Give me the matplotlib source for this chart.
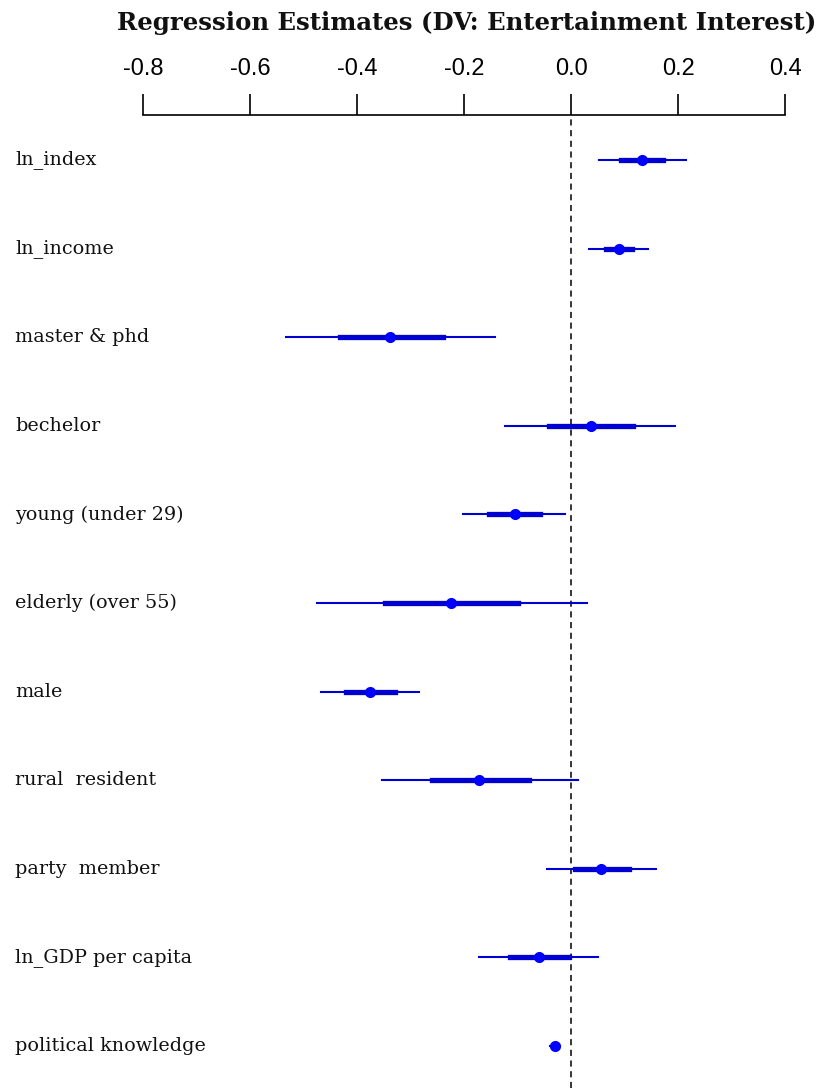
import matplotlib
matplotlib.use('Agg')
import matplotlib.pyplot as plt
import matplotlib.transforms as mtransforms
import numpy as np

# Data (coef, inner interval, outer interval)

labels = ['ln_index', 'ln_income', 'master & phd', 'bechelor', 'young (under 29)',
          'elderly (over 55)', 'male', 'rural  resident', 'party  member',
          'ln_GDP per capita', 'political knowledge']
coef = [0.133, 0.090, -0.338, 0.037, -0.105, -0.224, -0.376, -0.172, 0.057, -0.060, -0.030]
lo_inner = [0.093, 0.065, -0.432, -0.041, -0.153, -0.348, -0.421, -0.260, 0.008, -0.114, -0.034]
hi_inner = [0.172, 0.114, -0.239, 0.116, -0.058, -0.099, -0.329, -0.079, 0.109, -0.004, -0.026]
lo_outer = [0.052, 0.034, -0.533, -0.123, -0.202, -0.475, -0.467, -0.354, -0.045, -0.172, -0.040]
hi_outer = [0.215, 0.144, -0.142, 0.195, -0.011, 0.029, -0.284, 0.013, 0.159, 0.051, -0.020]

xticks = [-0.8, -0.6, -0.4, -0.2, 0.0, 0.2, 0.4]

W, H = 821, 1088
fig = plt.figure(figsize=(W / 100, H / 100), dpi=100)

# axes placed in pixel terms of the reference
left, right, top, bottom = 143, 785, 115, 1088
ax = fig.add_axes([left / W, 1 - bottom / H, (right - left) / W, (bottom - top) / H])

n = len(labels)
ypos = np.arange(n, 0, -1)

ax.set_xlim(-0.8, 0.4)
ax.set_ylim(0.526, n + 0.508)

ax.axvline(0, color='black', linestyle=(0, (4, 3)), linewidth=1.1, zorder=1)

for i in range(n):
    y = ypos[i]
    ax.plot([lo_outer[i], hi_outer[i]], [y, y], color='#0000d0', linewidth=1.5, zorder=2)
    ax.plot([lo_inner[i], hi_inner[i]], [y, y], color='#0000d0', linewidth=3.8, zorder=3)
    ax.plot(coef[i], y, 'o', color='#0000ff', markersize=7, zorder=4)

# axis on top only
for s in ['left', 'right', 'bottom']:
    ax.spines[s].set_visible(False)
ax.spines['top'].set_linewidth(1.2)
ax.xaxis.set_ticks_position('top')
ax.set_xticks(xticks)
ax.set_xticklabels(['%.1f' % t for t in xticks],
                   fontfamily=['Liberation Sans Narrow', 'Liberation Sans', 'DejaVu Sans'],
                   fontsize=17)
ax.tick_params(axis='x', direction='out', length=15, width=1.2, pad=10)
ax.set_yticks([])

# row labels at the left edge of the figure
trans = mtransforms.blended_transform_factory(fig.transFigure, ax.transData)
for i in range(n):
    ax.text(15 / W, ypos[i], labels[i], transform=trans, ha='left', va='center',
            fontfamily='DejaVu Serif', fontsize=13.8, color='#111111')

fig.text(467 / W, 1 - 23 / H, 'Regression Estimates (DV: Entertainment Interest)',
         ha='center', va='center', fontfamily='DejaVu Serif', fontweight='heavy',
         fontsize=17.6, color='#111111')

fig.savefig('out.png', dpi=100)
